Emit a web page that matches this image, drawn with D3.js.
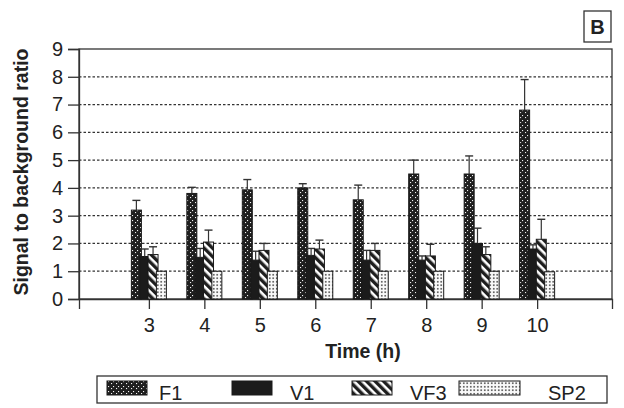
<!DOCTYPE html>
<html>
<head>
<meta charset="utf-8">
<script src="https://cdn.jsdelivr.net/npm/d3@7"></script>
<style>
  body { margin: 0; background: #fff; }
  text { font-family: "Liberation Sans", Arial, sans-serif; fill: #222; }
</style>
</head>
<body>
<svg id="chart" width="624" height="408"></svg>
<script>
// data
const times = [3, 4, 5, 6, 7, 8, 9, 10];
const series = ["F1", "V1", "VF3", "SP2"];
const f1 = [3.2, 3.8, 3.93, 4.0, 3.57, 4.5, 4.5, 6.8];
const f1Err = [0.35, 0.22, 0.37, 0.15, 0.53, 0.5, 0.65, 1.1];
const v1 = [1.53, 1.5, 1.4, 1.57, 1.4, 1.4, 2.0, 1.8];
const v1Err = [0.27, 0.32, 0.32, 0.25, 0.35, 0.15, 0.55, 0.15];
const vf3 = [1.6, 2.05, 1.75, 1.8, 1.75, 1.55, 1.6, 2.15];
const vf3Err = [0.28, 0.43, 0.25, 0.32, 0.25, 0.42, 0.28, 0.72];
const sp2 = [1.0, 1.0, 1.0, 1.0, 1.0, 1.0, 1.0, 0.98];
const yTicks = [0, 1, 2, 3, 4, 5, 6, 7, 8, 9];

const values = { F1: f1, V1: v1, VF3: vf3, SP2: sp2 };
const errors = { F1: f1Err, V1: v1Err, VF3: vf3Err, SP2: null };

const svg = d3.select("#chart");
const margin = { left: 79, top: 49, right: 12, bottom: 109 };
const width = 624 - margin.left - margin.right;
const height = 408 - margin.top - margin.bottom;

// patterns
const defs = svg.append("defs");
const pF1 = defs.append("pattern").attr("id", "pF1")
  .attr("patternUnits", "userSpaceOnUse").attr("width", 5).attr("height", 5);
pF1.append("rect").attr("width", 5).attr("height", 5).attr("fill", "#1f1f1f");
pF1.append("rect").attr("x", 3).attr("y", 1).attr("width", 1.1).attr("height", 1.1).attr("fill", "#f2f2f2");
pF1.append("rect").attr("x", 1).attr("y", 3).attr("width", 1.1).attr("height", 1.1).attr("fill", "#f2f2f2");

const pVF3 = defs.append("pattern").attr("id", "pVF3")
  .attr("patternUnits", "userSpaceOnUse").attr("width", 6).attr("height", 6)
  .attr("patternTransform", "rotate(-45)");
pVF3.append("rect").attr("width", 6).attr("height", 6).attr("fill", "#fff");
pVF3.append("rect").attr("width", 3.4).attr("height", 6).attr("fill", "#1e1e1e");

const pSP2 = defs.append("pattern").attr("id", "pSP2")
  .attr("patternUnits", "userSpaceOnUse").attr("width", 3.5).attr("height", 3.5);
pSP2.append("rect").attr("width", 3.5).attr("height", 3.5).attr("fill", "#fafafa");
pSP2.append("circle").attr("cx", 1.75).attr("cy", 1.75).attr("r", 0.85).attr("fill", "#333");

const fills = { F1: "url(#pF1)", V1: "#1b1b1b", VF3: "url(#pVF3)", SP2: "url(#pSP2)" };

const g = svg.append("g")
  .attr("transform", `translate(${margin.left}, ${margin.top})`);

const xScale = d3.scaleLinear().domain([1.74, 11.35]).range([0, width]);
const yScale = d3.scaleLinear().domain([0, 9]).range([height, 0]);
const offset = d3.scalePoint().domain(series).range([-12.5, 12.5]);
const barW = 10;

// dotted grid
g.selectAll(".grid")
  .data(yTicks.filter(d => d > 0 && d < 9))
  .enter().append("line")
  .attr("x1", 0).attr("x2", width)
  .attr("y1", d => yScale(d)).attr("y2", d => yScale(d))
  .attr("stroke", "#333").attr("stroke-width", 1.2)
  .attr("stroke-dasharray", "2.5,2");

// frame
g.append("rect").attr("width", width).attr("height", height)
  .attr("fill", "none").attr("stroke", "#333").attr("stroke-width", 1.3);

// y axis
const yAxis = g.append("g")
  .call(d3.axisLeft(yScale).tickValues(yTicks).tickSize(11).tickPadding(5));
yAxis.select(".domain").attr("stroke", "#333").attr("stroke-width", 1.3);
yAxis.selectAll(".tick line").attr("stroke", "#333").attr("stroke-width", 1.3);
yAxis.selectAll("text").style("font-size", "20px")
  .style("font-family", "'Liberation Sans', Arial, sans-serif").attr("fill", "#222");

// x axis
const xAxis = g.append("g")
  .attr("transform", `translate(0, ${height})`)
  .call(d3.axisBottom(xScale).tickValues(times).tickFormat(d3.format("d"))
    .tickSize(10).tickPadding(9));
xAxis.select(".domain").attr("stroke", "#333").attr("stroke-width", 1.3);
xAxis.selectAll(".tick line").attr("stroke", "#333").attr("stroke-width", 1.3);
xAxis.selectAll("text").style("font-size", "20px")
  .style("font-family", "'Liberation Sans', Arial, sans-serif").attr("fill", "#222");

// bars
series.forEach(s => {
  const rows = times.map((t, i) => ({ t, v: values[s][i], e: errors[s] ? errors[s][i] : 0 }));
  const sg = g.append("g").attr("class", "series-" + s);
  sg.selectAll("rect")
    .data(rows)
    .enter().append("rect")
    .attr("x", d => xScale(d.t) + offset(s) - barW / 2)
    .attr("y", d => yScale(d.v))
    .attr("width", barW)
    .attr("height", d => height - yScale(d.v))
    .attr("fill", fills[s])
    .attr("stroke", "#1a1a1a").attr("stroke-width", 1);
  if (errors[s]) {
    const eg = sg.selectAll(".err").data(rows).enter().append("g");
    eg.append("line")
      .attr("x1", d => xScale(d.t) + offset(s)).attr("x2", d => xScale(d.t) + offset(s))
      .attr("y1", d => yScale(d.v)).attr("y2", d => yScale(d.v + d.e))
      .attr("stroke", "#333").attr("stroke-width", 1.2);
    eg.append("line")
      .attr("x1", d => xScale(d.t) + offset(s) - 4).attr("x2", d => xScale(d.t) + offset(s) + 4)
      .attr("y1", d => yScale(d.v + d.e)).attr("y2", d => yScale(d.v + d.e))
      .attr("stroke", "#333").attr("stroke-width", 1.4);
  }
});

// axis titles
svg.append("text")
  .attr("transform", `translate(28, ${margin.top + height / 2 - 2}) rotate(-90)`)
  .attr("text-anchor", "middle")
  .style("font-size", "19.5px").style("font-weight", "bold")
  .text("Signal to background ratio");

svg.append("text")
  .attr("x", 363).attr("y", 358)
  .attr("text-anchor", "middle")
  .style("font-size", "19.5px").style("font-weight", "bold")
  .text("Time (h)");

// panel letter
svg.append("rect").attr("x", 584).attr("y", 11).attr("width", 27).attr("height", 31)
  .attr("fill", "#fff").attr("stroke", "#333").attr("stroke-width", 1.3);
svg.append("text").attr("x", 597.5).attr("y", 34).attr("text-anchor", "middle")
  .style("font-size", "20px").style("font-weight", "bold").text("B");

// legend
const legendX = [107, 232, 352, 459];
const swatchW = [40, 40, 40, 61];
const labelX = [159, 290, 410, 548];
const lg = svg.append("g");
lg.append("rect").attr("x", 97).attr("y", 376).attr("width", 510).attr("height", 27)
  .attr("fill", "#fff").attr("stroke", "#333").attr("stroke-width", 1.3);
series.forEach((s, i) => {
  lg.append("rect").attr("x", legendX[i]).attr("y", 381).attr("width", swatchW[i]).attr("height", 14)
    .attr("fill", fills[s]).attr("stroke", "#1a1a1a").attr("stroke-width", 1);
  lg.append("text").attr("x", labelX[i]).attr("y", 400)
    .style("font-size", "20px").text(s);
});
</script>
</body>
</html>
